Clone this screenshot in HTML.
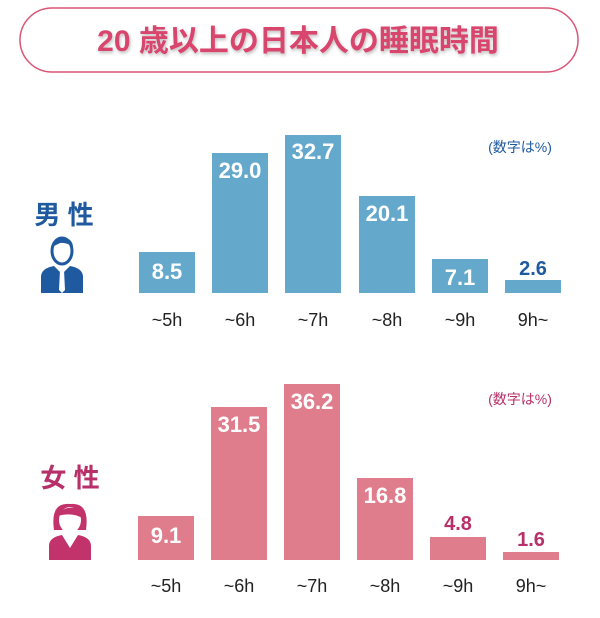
<!DOCTYPE html>
<html><head><meta charset="utf-8"><style>
html,body{margin:0;padding:0;background:#fff;width:600px;height:618px;overflow:hidden}
text{font-family:"Liberation Sans","Noto Sans CJK JP",sans-serif}
.v{font-family:"Liberation Sans Narrow","Liberation Sans",sans-serif;font-weight:bold;font-size:22px;text-anchor:middle}
.c{font-size:18px;text-anchor:middle;fill:#222}
</style></head><body>
<svg width="600" height="618" viewBox="0 0 600 618" xmlns="http://www.w3.org/2000/svg">
<defs><filter id="sh"><feDropShadow dx="1" dy="2" stdDeviation="1.5" flood-color="#000" flood-opacity="0.25"/></filter></defs>
<rect x="20" y="8" width="558" height="64" rx="32" fill="#fff" stroke="#d95575" stroke-width="1.5"/>
<text x="298" y="51" text-anchor="middle" font-size="30" font-weight="bold" fill="#d8456d" filter="url(#sh)">20 歳以上の日本人の睡眠時間</text>

<text x="64" y="224" text-anchor="middle" font-size="26" font-weight="bold" fill="#1f5aa0">男 性</text>
<g fill="#1f5aa0">
<ellipse cx="62" cy="251" rx="10" ry="13" fill="#fff" stroke="#1f5aa0" stroke-width="3"/>
<path d="M52 247 Q55 236 66 238 Q73 240 73 248 Q68 242 60 243 Z"/>
<path d="M41 293 L41 276 Q42 268 54 266 L62 274 L70 266 Q82 268 83 276 L83 293 Z"/>
<path d="M60 270 L64 270 L65 290 L62 293 L59 290 Z" fill="#fff"/>
</g>
<text x="520" y="152" text-anchor="middle" font-size="14" fill="#1f5aa0">(数字は%)</text>
<g fill="#64a9cc">
<rect x="139" y="252" width="56" height="41"/>
<rect x="212" y="153" width="56" height="140"/>
<rect x="285" y="135" width="56" height="158"/>
<rect x="359" y="196" width="56" height="97"/>
<rect x="432" y="259" width="56" height="34"/>
<rect x="505" y="280" width="56" height="13"/>
</g>
<text class="v" x="167" y="279" fill="#fff">8.5</text>
<text class="v" x="240" y="178" fill="#fff">29.0</text>
<text class="v" x="313" y="159" fill="#fff">32.7</text>
<text class="v" x="387" y="221" fill="#fff">20.1</text>
<text class="v" x="460" y="285" fill="#fff">7.1</text>
<text class="v" x="533" y="275" fill="#1f5aa0" style="font-size:20px">2.6</text>
<text class="c" x="167" y="326">~5h</text><text class="c" x="240" y="326">~6h</text><text class="c" x="313" y="326">~7h</text>
<text class="c" x="387" y="326">~8h</text><text class="c" x="460" y="326">~9h</text><text class="c" x="533" y="326">9h~</text>

<text x="70" y="487" text-anchor="middle" font-size="26" font-weight="bold" fill="#b8306a">女 性</text>
<g fill="#c2336c">
<path d="M54 530 Q50 502 70 504 Q90 502 86 530 Z"/>
<ellipse cx="70" cy="520" rx="11" ry="13" fill="#fff"/>
<path d="M58 516 Q62 506 76 508 Q82 512 82 518 Q72 512 58 516 Z"/>
<path d="M49 560 L49 545 Q50 537 62 535 L70 548 L78 535 Q90 537 91 545 L91 560 Z"/>
</g>
<text x="520" y="404" text-anchor="middle" font-size="14" fill="#b8306a">(数字は%)</text>
<g fill="#e07d8c">
<rect x="138" y="516" width="56" height="44"/>
<rect x="211" y="407" width="56" height="153"/>
<rect x="284" y="384" width="56" height="176"/>
<rect x="357" y="478" width="56" height="82"/>
<rect x="430" y="537" width="56" height="23"/>
<rect x="503" y="552" width="56" height="8"/>
</g>
<text class="v" x="166" y="543" fill="#fff">9.1</text>
<text class="v" x="239" y="432" fill="#fff">31.5</text>
<text class="v" x="312" y="409" fill="#fff">36.2</text>
<text class="v" x="385" y="503" fill="#fff">16.8</text>
<text class="v" x="458" y="530" fill="#b8306a" style="font-size:20px">4.8</text>
<text class="v" x="531" y="546" fill="#b8306a" style="font-size:20px">1.6</text>
<text class="c" x="166" y="592">~5h</text><text class="c" x="239" y="592">~6h</text><text class="c" x="312" y="592">~7h</text>
<text class="c" x="385" y="592">~8h</text><text class="c" x="458" y="592">~9h</text><text class="c" x="531" y="592">9h~</text>
</svg>
</body></html>
